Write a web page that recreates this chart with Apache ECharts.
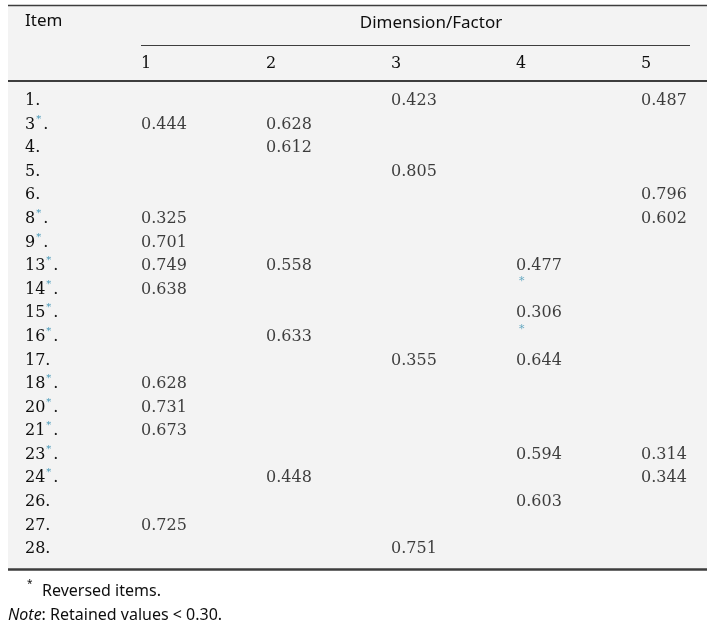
<!DOCTYPE html>
<html><head><meta charset="utf-8">
<script src="https://cdn.jsdelivr.net/npm/echarts@6/dist/echarts.min.js"></script>
<style>html,body{margin:0;padding:0;background:#fff}#c{width:714px;height:628px}</style>
</head><body><div id="c"></div>
<script>
// ---- data ----
const items = ['1','3','4','5','6','8','9','13','14','15','16','17','18','20','21','23','24','26','27','28'];
const reversed = [false,true,false,false,false,true,true,true,true,true,true,false,true,true,true,true,true,false,false,false];
const factorLabels = ['1','2','3','4','5'];
const factor1 = [null,0.444,null,null,null,0.325,0.701,0.749,0.638,null,null,null,0.628,0.731,0.673,null,null,null,0.725,null];
const factor2 = [null,0.628,0.612,null,null,null,null,0.558,null,null,0.633,null,null,null,null,null,0.448,null,null,null];
const factor3 = [0.423,null,null,0.805,null,null,null,null,null,null,null,0.355,null,null,null,null,null,null,null,0.751];
const factor4 = [null,null,null,null,null,null,null,0.477,null,0.306,null,0.644,null,null,null,0.594,null,0.603,null,null];
const factor5 = [0.487,null,null,null,0.796,0.602,null,null,null,null,null,null,null,null,null,0.314,0.344,null,null,null];
const strayStarsFactor4 = ['14','16'];
const headerTitle = 'Item';
const groupTitle = 'Dimension/Factor';
const footnote1 = 'Reversed items.';
const footnote2 = 'Retained values < 0.30.';

const factors = [factor1, factor2, factor3, factor4, factor5];
const SERIF = 'DejaVu Serif';
const SANS = 'Noto Sans';
const TXT = '#0e0e0e';
const TEAL = '#3f93b4';

const chart = echarts.init(document.getElementById('c'), null, {renderer:'canvas'});

const series = factors.map((arr, k) => ({
  type:'scatter',
  symbolSize: 0.01,
  itemStyle:{color:'rgba(0,0,0,0)'},
  silent:true,
  data: arr.map((v,i)=> v==null?null:[k+1, i, v]).filter(d=>d),
  label:{show:true, position:'right', distance:0, offset:[0,1], color:TXT, fontFamily:SERIF, fontSize:16,
    formatter: p => p.value[2].toFixed(3)}
}));
series.push({
  type:'scatter', symbolSize:0.01, itemStyle:{color:'rgba(0,0,0,0)'}, silent:true,
  data: strayStarsFactor4.map(it => [4, items.indexOf(it), '*']),
  label:{show:true, position:'right', distance:0, offset:[3,-7], color:TEAL, fontFamily:SERIF, fontSize:11,
    formatter: () => '*'}
});

chart.setOption({
  animation:false,
  backgroundColor:'#ffffff',
  grid:{left:16, right:10.5, top:88.2, height:471.6},
  xAxis:{type:'value', min:0, max:5.5, interval:1, position:'top',
    axisLine:{show:false}, axisTick:{show:false}, splitLine:{show:false},
    axisLabel:{show:true, align:'left', margin:16, color:TXT, fontFamily:SERIF, fontSize:16,
      formatter: v => (v>=1 && v<=5 && Number.isInteger(v)) ? factorLabels[v-1] : ''}},
  yAxis:{type:'category', data:items, inverse:true,
    axisLine:{show:false}, axisTick:{show:false}, splitLine:{show:false},
    axisLabel:{align:'left', margin:-9, interval:0,
      formatter: (v) => reversed[items.indexOf(v)] ? '{n|'+v+'}{s|*}{n|.}' : '{n|'+v+'.}',
      rich:{
        n:{color:TXT, fontFamily:SERIF, fontSize:16, padding:[2,0,0,0]},
        s:{color:TEAL, fontFamily:SERIF, fontSize:10, padding:[0,2,9,1]}
      }}},
  graphic:[
    {type:'rect', z:-10, shape:{x:8, y:5, width:699, height:565}, style:{fill:'#f3f3f3'}},
    {type:'line', shape:{x1:8,y1:5.5,x2:707,y2:5.5}, style:{stroke:'#3d3d3d', lineWidth:1.5}},
    {type:'line', shape:{x1:141,y1:45.5,x2:690,y2:45.5}, style:{stroke:'#3d3d3d', lineWidth:1.2}},
    {type:'line', shape:{x1:8,y1:81,x2:707,y2:81}, style:{stroke:'#3d3d3d', lineWidth:1.8}},
    {type:'line', shape:{x1:8,y1:569.5,x2:707,y2:569.5}, style:{stroke:'#3d3d3d', lineWidth:2.5}},
    {type:'text', left:25, top:13, style:{text:headerTitle, fill:TXT, font:'17px "'+SANS+'"'}},
    {type:'text', x:431, y:23, style:{text:groupTitle, fill:TXT, font:'17px "'+SANS+'"', align:'center', verticalAlign:'middle'}},
    {type:'text', x:27, y:584, style:{text:'*', fill:TXT, font:'10px "'+SANS+'"', verticalAlign:'middle'}},
    {type:'text', x:42, y:591, style:{text:footnote1, fill:TXT, font:'16px "'+SANS+'"', verticalAlign:'middle'}},
    {type:'text', x:8, y:615, style:{
      text:'{i|Note}{r|: '+footnote2+'}', verticalAlign:'middle',
      rich:{i:{fontStyle:'italic', fontFamily:SANS, fontSize:16, fill:TXT, color:TXT},
            r:{fontFamily:SANS, fontSize:16, fill:TXT, color:TXT}}}}
  ],
  series: series
});
</script></body></html>
